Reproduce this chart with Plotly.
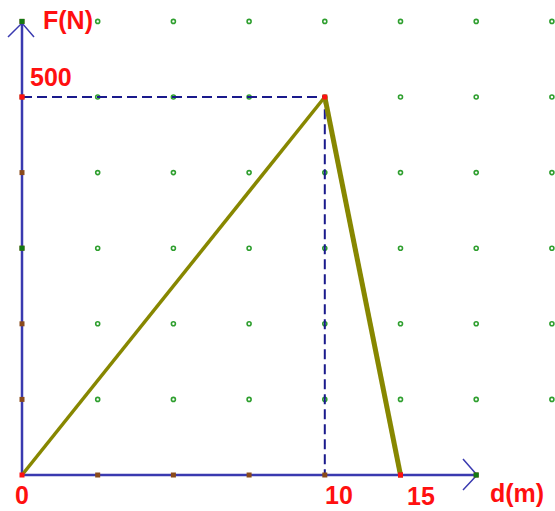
import plotly.graph_objects as go

# Force-distance diagram: F rises linearly to 500 N at d = 10 m, then falls to 0 at d = 15 m
d_labels = ["0", "10", "15"]          # distance labels (m)
d_grid = [0, 4, 5]                    # grid column of each labelled distance
force = [0, 500, 0]                   # force at each labelled distance (N)
f_peak_label = "500"

grid_cols = list(range(0, 8))         # grid columns
grid_rows = [0, 100, 200, 300, 400, 500, 600]  # grid rows (N)

AXIS = "#3a3ab0"
DASH = "#1a1a8c"
OLIVE = "#878700"
RED = "#ff1010"
GREEN = "#2f9f2f"

W, H = 555, 511
OX, OY = 22, 475          # origin in pixels
SX, SY = 75.7, 0.756      # pixels per grid column / per newton

x_range = [-OX / SX, (W - OX) / SX]
y_range = [-(H - OY) / SY, OY / SY]

def px_x(p):
    return (p - OX) / SX

def px_y(p):
    return (OY - p) / SY

fig = go.Figure()

# background grid dots
gx, gy = [], []
for c in grid_cols[1:]:
    for r in grid_rows[1:]:
        gx.append(c)
        gy.append(r)
fig.add_trace(go.Scatter(x=gx, y=gy, mode="markers",
                         marker=dict(symbol="circle-open", size=4, color=GREEN,
                                     line=dict(width=1.6, color=GREEN)),
                         hoverinfo="skip"))

# dashed guide lines to the peak
fig.add_trace(go.Scatter(x=[d_grid[0], d_grid[1], d_grid[1]],
                         y=[force[1], force[1], 0], mode="lines",
                         line=dict(color=DASH, width=2, dash="10px,5px"),
                         hoverinfo="skip"))

# axes with arrows
fig.add_trace(go.Scatter(x=[0, px_x(477)], y=[0, 0], mode="lines",
                         line=dict(color=AXIS, width=2.5), hoverinfo="skip"))
fig.add_trace(go.Scatter(x=[0, 0], y=[0, px_y(23)], mode="lines",
                         line=dict(color=AXIS, width=2.5), hoverinfo="skip"))
fig.add_trace(go.Scatter(x=[px_x(463), px_x(477), px_x(463)],
                         y=[px_y(459), px_y(475), px_y(490)], mode="lines",
                         line=dict(color=AXIS, width=1.5), hoverinfo="skip"))
fig.add_trace(go.Scatter(x=[px_x(8), px_x(22), px_x(34)],
                         y=[px_y(37), px_y(23), px_y(37)], mode="lines",
                         line=dict(color=AXIS, width=1.5), hoverinfo="skip"))

# force curve
fig.add_trace(go.Scatter(x=d_grid[:2], y=force[:2], mode="lines",
                         line=dict(color=OLIVE, width=3.5), hoverinfo="skip"))
fig.add_trace(go.Scatter(x=d_grid[1:], y=force[1:], mode="lines",
                         line=dict(color=OLIVE, width=5), hoverinfo="skip"))

# markers on the axes
axis_mx = [c for c in grid_cols[1:7]]
axis_my = [r for r in grid_rows[1:]]
fig.add_trace(go.Scatter(x=axis_mx, y=[0] * len(axis_mx), mode="markers",
                         marker=dict(symbol="square", size=5, color="#8a4a1a"),
                         hoverinfo="skip"))
fig.add_trace(go.Scatter(x=[0] * len(axis_my), y=axis_my, mode="markers",
                         marker=dict(symbol="square", size=5, color="#8a4a1a"),
                         hoverinfo="skip"))
fig.add_trace(go.Scatter(x=[0, 0, d_grid[1], d_grid[2]], y=[0, force[1], force[1], 0],
                         mode="markers",
                         marker=dict(symbol="square", size=5, color=RED),
                         hoverinfo="skip"))
fig.add_trace(go.Scatter(x=[0, 0, 6], y=[300, 600, 0], mode="markers",
                         marker=dict(symbol="square", size=5, color="#137a13"),
                         hoverinfo="skip"))

font = dict(family="Liberation Sans, Arial", size=25, color=RED)
ann = []
ann.append(dict(x=d_grid[0], y=0, text="<b>" + d_labels[0] + "</b>", showarrow=False,
                xanchor="center", yanchor="top", yshift=-4, font=font))
ann.append(dict(x=d_grid[1], y=0, text="<b>" + d_labels[1] + "</b>", showarrow=False,
                xanchor="center", yanchor="top", xshift=14, yshift=-4, font=font))
ann.append(dict(x=d_grid[2], y=0, text="<b>" + d_labels[2] + "</b>", showarrow=False,
                xanchor="center", yanchor="top", xshift=20, yshift=-5, font=font))
ann.append(dict(x=0, y=force[1], text="<b>" + f_peak_label + "</b>", showarrow=False,
                xanchor="left", yanchor="bottom", xshift=6, yshift=4, font=font))
ann.append(dict(x=px_x(68), y=px_y(20), text="<b>F(N)</b>", showarrow=False,
                xanchor="center", yanchor="middle", font=font))
ann.append(dict(x=px_x(517), y=px_y(493), text="<b>d(m)</b>", showarrow=False,
                xanchor="center", yanchor="middle", font=font))

fig.update_layout(
    width=W, height=H,
    margin=dict(l=0, r=0, t=0, b=0),
    paper_bgcolor="white", plot_bgcolor="white",
    showlegend=False,
    xaxis=dict(range=x_range, visible=False, fixedrange=True),
    yaxis=dict(range=y_range, visible=False, fixedrange=True),
    annotations=ann,
)

fig.write_html("out.html")
